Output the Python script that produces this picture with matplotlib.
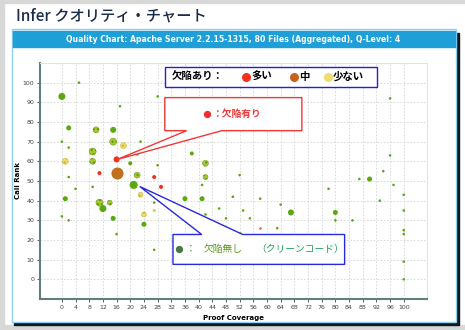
import matplotlib
matplotlib.use("Agg")
import matplotlib.pyplot as plt
from matplotlib.patches import Rectangle, Polygon

# data
coverage = [0, 5, 28, 17, 2, 10, 15, 0, 15, 18, 23, 2, 9, 22, 1, 9, 16, 20, 28, 38,
            42, 11, 16, 22, 27, 29, 21, 2, 4, 9, 42, 41, 23, 52, 1, 11, 12, 14, 0, 2,
            15, 16, 24, 24, 27, 27, 27, 33, 36, 41, 42, 46, 48, 50, 52, 53, 55, 58, 58, 63,
            64, 67, 68, 78, 80, 80, 85, 87, 90, 93, 94, 96, 96, 97, 100, 100, 100, 100, 100, 100]
call_rank = [93, 100, 93, 88, 77, 76, 76, 70, 70, 68, 70, 67, 65, 64, 60, 60, 61, 59, 58, 64,
             59, 54, 54, 53, 52, 47, 48, 52, 46, 47, 52, 48, 43, 53, 41, 39, 36, 39, 32, 30,
             31, 23, 33, 28, 39, 35, 15, 37, 41, 41, 33, 36, 31, 42, 23, 35, 31, 41, 26, 26,
             38, 34, 22, 46, 34, 30, 30, 51, 51, 40, 55, 92, 63, 48, 43, 35, 25, 23, 9, 0]
weight = [3.5, 1.3, 1.3, 1.3, 2.5, 3, 3, 1.3, 3.5, 3, 1.3, 1.3, 3.5, 2, 3, 3, 3, 2, 1.3, 2,
          3, 2, 6, 3, 2, 2, 4, 1.3, 1.3, 1.3, 2.5, 1.3, 2.5, 1.3, 2.5, 3.5, 3.5, 2.5, 1.3, 1.3,
          2.5, 1.3, 2.5, 2.5, 1.3, 1.3, 1.3, 2, 2.5, 2.5, 1.3, 1.3, 1.3, 1.3, 2, 1.3, 1.3, 1.3, 1.3, 1.3,
          1.3, 3, 1.3, 1.3, 2.5, 1.3, 1.3, 1.3, 2.5, 1.3, 1.3, 1.3, 1.3, 1.3, 1.3, 1.3, 1.3, 1.3, 1.3, 1.3]
kind = ["G", "G", "G", "G", "G", "L", "G", "G", "L", "Y", "G", "G", "L", "L", "Y", "L", "R", "G", "G", "G",
        "L", "R", "B", "L", "R", "R", "G", "G", "G", "G", "L", "G", "Y", "G", "G", "L", "G", "L", "G", "G",
        "G", "G", "Y", "G", "G", "Y", "G", "G", "G", "G", "G", "G", "G", "G", "G", "G", "G", "G", "O", "G",
        "G", "G", "G", "G", "G", "G", "G", "G", "G", "G", "G", "G", "G", "G", "G", "G", "G", "G", "G", "G"]

x_ticks = list(range(0, 101, 4))
y_ticks = list(range(0, 101, 10))

title = "Infer クオリティ・チャート"
header = "Quality Chart: Apache Server 2.2.15-1315, 80 Files (Aggregated), Q-Level: 4"
jp = ["Noto Sans CJK JP", "DejaVu Sans"]

style = {
    "G": ("#5aa812", None, "#5aa812"),
    "L": ("#a6c832", "....", "#5e9410"),
    "Y": ("#e8dc70", "....", "#c8b030"),
    "R": ("#f2301e", None, "#f2301e"),
    "O": ("#f06030", None, "#f06030"),
    "B": ("#c0701e", None, "#c0701e"),
}

W, H = 465, 330
fx = lambda p: p / W
fy = lambda p: 1 - p / H

fig = plt.figure(figsize=(4.65, 3.3), dpi=100, facecolor="white")

# page frame
for r in [(0, 0, 4, H), (0, 0, W, 3), (0, 325, W, 5)]:
    fig.patches.append(Rectangle((fx(r[0]), fy(r[1] + r[3])), r[2] / W, r[3] / H,
                                 transform=fig.transFigure, color="#d8d8d8", zorder=-3))
fig.text(fx(16), fy(16), title, family=jp, fontsize=11, weight=500, color="#1c2b4a", va="center")

# chart panel with shadow
fig.patches.append(Rectangle((fx(14), fy(325)), 445 / W, 292 / H, transform=fig.transFigure,
                             color="#101820", zorder=-2))
fig.patches.append(Rectangle((fx(12), fy(322)), 444 / W, 293 / H, transform=fig.transFigure,
                             facecolor="white", edgecolor="#90d0f0", lw=1, zorder=-1))
fig.patches.append(Rectangle((fx(13), fy(47)), 442 / W, 16 / H, transform=fig.transFigure,
                             color="#1e9fd8", zorder=-1))
fig.text(fx(233), fy(39.5), header, color="white", fontsize=5.6, weight="bold",
         ha="center", va="center", family="DejaVu Sans")

ax = fig.add_axes([fx(40), fy(299), (427 - 40) / W, (299 - 63) / H])
ax.set_zorder(2)
ax.set_facecolor("white")

for k, (fc, hatch, ec) in style.items():
    idx = [i for i, t in enumerate(kind) if t == k]
    xs = [coverage[i] for i in idx]
    ys = [call_rank[i] for i in idx]
    ss = [2.1 * weight[i] ** 2 for i in idx]
    ax.scatter(xs, ys, s=ss, c=fc, edgecolors=ec, linewidths=0.3 if hatch else 0,
               hatch=hatch, zorder=3)

ax.set_xlim(-6.4, 106.8)
ax.set_ylim(-10, 110)
ax.set_xticks(x_ticks)
ax.set_yticks(y_ticks)
ax.tick_params(labelsize=4.5, colors="#444444", length=2, width=0.6, pad=2)
ax.grid(True, color="#d4d4d4", ls=(0, (2, 2)), lw=0.6)
ax.set_axisbelow(True)
for s in ["left", "bottom"]:
    ax.spines[s].set_color("#5f7f7f")
    ax.spines[s].set_linewidth(1.5)
for s in ["top", "right"]:
    ax.spines[s].set_color("#e4e4e4")
    ax.spines[s].set_linewidth(0.8)
ax.set_xlabel("Proof Coverage", fontsize=5, weight="bold", labelpad=4)
ax.set_ylabel("Call Rank", fontsize=5, weight="bold", labelpad=1)

# legend box
ax.add_patch(Rectangle((30.1, 98.0), 62.0, 10.1, facecolor="white", edgecolor="#2020d8",
                       lw=1, clip_on=False, zorder=5))
ax.text(32.0, 103.0, "欠陥あり：", family=jp, fontsize=7.5, weight="bold", va="center", zorder=6)
for xd, col, lab in [(54.0, "#f2301e", "多い"), (67.8, "#c8601e", "中"), (77.8, "#f0dc70", "少ない")]:
    ax.scatter([xd], [103.0], s=30, c=col, zorder=6, clip_on=False)
    ax.text(xd + 1.5, 103.0, lab, family=jp, fontsize=7.5, weight="bold", va="center", zorder=6)

# red callout
ax.add_patch(Polygon([(30.1, 92.4), (70.2, 92.4), (70.2, 75.6), (46.8, 75.6), (16.1, 60.9),
                      (36.5, 75.6), (30.1, 75.6)], closed=True, facecolor="white",
                     edgecolor="#f03838", lw=1, clip_on=False, zorder=4))
ax.scatter([42.5], [84.3], s=18, c="#f03030", zorder=6)
ax.text(44.0, 84.3, "：欠陥有り", family=jp, fontsize=7, weight="bold", color="#f03838",
        va="center", zorder=6)

# blue callout
ax.add_patch(Polygon([(32.5, 22.8), (40.9, 22.8), (22.8, 47.2), (52.9, 22.8), (82.7, 22.8),
                      (82.7, 7.6), (32.5, 7.6)], closed=True, facecolor="white",
                     edgecolor="#2828e0", lw=1, clip_on=False, zorder=4))
ax.scatter([34.3], [15.5], s=18, c="#4a7a40", zorder=6)
ax.text(36.3, 15.5, "：", family=jp, fontsize=7, color="#3a8a3a", va="center", zorder=6)
ax.text(41.6, 15.5, "欠陥無し", family=jp, fontsize=7, color="#5a9a20", va="center", zorder=6)
ax.text(57.0, 15.5, "（クリーンコード）", family=jp, fontsize=7, color="#20a060",
        va="center", zorder=6)

fig.savefig("out.png", dpi=100)
